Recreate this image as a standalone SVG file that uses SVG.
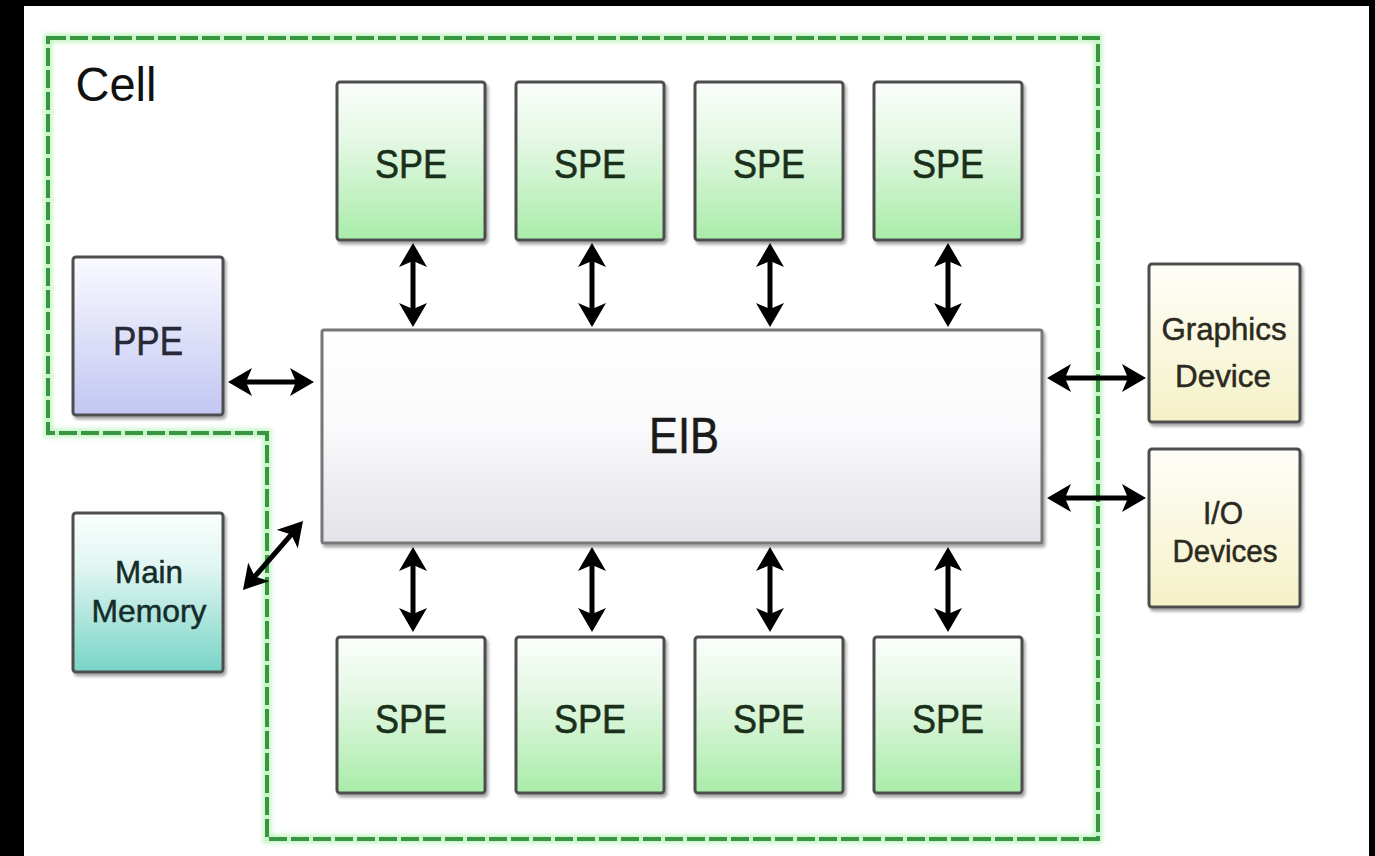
<svg xmlns="http://www.w3.org/2000/svg" width="1375" height="856" viewBox="0 0 1375 856">
  <defs>
    <linearGradient id="gSPE" x1="0" y1="0" x2="0" y2="1">
      <stop offset="0" stop-color="#fbfefb"/>
      <stop offset="0.35" stop-color="#e6f8e6"/>
      <stop offset="1" stop-color="#a9eca9"/>
    </linearGradient>
    <linearGradient id="gPPE" x1="0" y1="0" x2="0" y2="1">
      <stop offset="0" stop-color="#fafaff"/>
      <stop offset="1" stop-color="#c2c6f2"/>
    </linearGradient>
    <linearGradient id="gMEM" x1="0" y1="0" x2="0" y2="1">
      <stop offset="0" stop-color="#fbfffe"/>
      <stop offset="0.35" stop-color="#dff5f1"/>
      <stop offset="1" stop-color="#78d4c6"/>
    </linearGradient>
    <linearGradient id="gIO" x1="0" y1="0" x2="0" y2="1">
      <stop offset="0" stop-color="#fefef8"/>
      <stop offset="1" stop-color="#f5f1c8"/>
    </linearGradient>
    <linearGradient id="gEIB" x1="0" y1="0" x2="0" y2="1">
      <stop offset="0" stop-color="#ffffff"/>
      <stop offset="0.45" stop-color="#fafafc"/>
      <stop offset="1" stop-color="#e2e2e8"/>
    </linearGradient>
    <filter id="shadow" x="-10%" y="-10%" width="125%" height="125%">
      <feDropShadow dx="2" dy="3" stdDeviation="1.5" flood-color="#000" flood-opacity="0.35"/>
    </filter>
    <filter id="glow" x="-5%" y="-5%" width="110%" height="110%">
      <feGaussianBlur stdDeviation="2"/>
    </filter>
    <marker id="ah" viewBox="0 0 24 28" markerUnits="userSpaceOnUse" markerWidth="24" markerHeight="28" refX="17" refY="14" orient="auto-start-reverse">
      <path d="M0,0 L24,14 L0,28 L6,14 Z" fill="#000"/>
    </marker>
  </defs>
  <style>
    .box { stroke: #4e4e4e; stroke-width: 3; filter: url(#shadow); }
    .eib { stroke: #777; stroke-width: 3; filter: url(#shadow); }
    .lbl { font-family: "Liberation Sans", Arial, sans-serif; text-anchor: middle; }
    .spe { fill: #1a301a; font-size: 41px; stroke: #1a301a; stroke-width: 0.6; }
    .conn { stroke: #000; stroke-width: 5; fill: none; marker-start: url(#ah); marker-end: url(#ah); }
  </style>

  <rect x="0" y="0" width="1375" height="856" fill="#000"/>
  <rect x="24" y="6" width="1345" height="850" fill="#fff"/>

  <g id="cell-boundary">
    <path d="M48,38 H1098 V839 H267 V433 H48 Z" fill="none" stroke="#aef0ae" stroke-width="9" filter="url(#glow)" opacity="0.7"/>
    <path d="M48,38 H1098 V839 H267 V433 H48 Z" fill="none" stroke="#37963f" stroke-width="4" stroke-dasharray="18 4"/>
    <text class="lbl" x="116" y="101" font-size="49" fill="#111" textLength="81" lengthAdjust="spacingAndGlyphs">Cell</text>
  </g>

  <g id="connectors">
    <line class="conn" x1="413" y1="250" x2="413" y2="320"/>
    <line class="conn" x1="592" y1="250" x2="592" y2="320"/>
    <line class="conn" x1="770" y1="250" x2="770" y2="320"/>
    <line class="conn" x1="948" y1="250" x2="948" y2="320"/>
    <line class="conn" x1="413" y1="554" x2="413" y2="625"/>
    <line class="conn" x1="592" y1="554" x2="592" y2="625"/>
    <line class="conn" x1="770" y1="554" x2="770" y2="625"/>
    <line class="conn" x1="948" y1="554" x2="948" y2="625"/>
    <line class="conn" x1="235" y1="382" x2="307" y2="382"/>
    <line class="conn" x1="1054" y1="378" x2="1139" y2="378"/>
    <line class="conn" x1="1054" y1="498" x2="1139" y2="498"/>
    <line class="conn" x1="247.6" y1="584.7" x2="298.4" y2="526.3"/>
  </g>

  <g id="eib">
    <rect class="eib" x="322" y="330" width="720" height="213" rx="2" fill="url(#gEIB)"/>
    <text class="lbl" x="684" y="453" font-size="50" fill="#1a1a1a" stroke="#1a1a1a" stroke-width="0.6" textLength="70" lengthAdjust="spacingAndGlyphs">EIB</text>
  </g>

  <g id="spe-top-1">
    <rect class="box" x="337" y="82" width="148" height="158" rx="3" fill="url(#gSPE)"/>
    <text class="lbl spe" x="411" y="178" textLength="72" lengthAdjust="spacingAndGlyphs">SPE</text>
  </g>
  <g id="spe-top-2">
    <rect class="box" x="516" y="82" width="148" height="158" rx="3" fill="url(#gSPE)"/>
    <text class="lbl spe" x="590" y="178" textLength="72" lengthAdjust="spacingAndGlyphs">SPE</text>
  </g>
  <g id="spe-top-3">
    <rect class="box" x="695" y="82" width="148" height="158" rx="3" fill="url(#gSPE)"/>
    <text class="lbl spe" x="769" y="178" textLength="72" lengthAdjust="spacingAndGlyphs">SPE</text>
  </g>
  <g id="spe-top-4">
    <rect class="box" x="874" y="82" width="148" height="158" rx="3" fill="url(#gSPE)"/>
    <text class="lbl spe" x="948" y="178" textLength="72" lengthAdjust="spacingAndGlyphs">SPE</text>
  </g>

  <g id="spe-bottom-1">
    <rect class="box" x="337" y="637" width="148" height="156" rx="3" fill="url(#gSPE)"/>
    <text class="lbl spe" x="411" y="733" textLength="72" lengthAdjust="spacingAndGlyphs">SPE</text>
  </g>
  <g id="spe-bottom-2">
    <rect class="box" x="516" y="637" width="148" height="156" rx="3" fill="url(#gSPE)"/>
    <text class="lbl spe" x="590" y="733" textLength="72" lengthAdjust="spacingAndGlyphs">SPE</text>
  </g>
  <g id="spe-bottom-3">
    <rect class="box" x="695" y="637" width="148" height="156" rx="3" fill="url(#gSPE)"/>
    <text class="lbl spe" x="769" y="733" textLength="72" lengthAdjust="spacingAndGlyphs">SPE</text>
  </g>
  <g id="spe-bottom-4">
    <rect class="box" x="874" y="637" width="148" height="156" rx="3" fill="url(#gSPE)"/>
    <text class="lbl spe" x="948" y="733" textLength="72" lengthAdjust="spacingAndGlyphs">SPE</text>
  </g>

  <g id="ppe">
    <rect class="box" x="73" y="257" width="150" height="158" rx="3" fill="url(#gPPE)"/>
    <text class="lbl" x="148" y="355" font-size="41" fill="#262a36" stroke="#262a36" stroke-width="0.6" textLength="70" lengthAdjust="spacingAndGlyphs">PPE</text>
  </g>

  <g id="main-memory">
    <rect class="box" x="73" y="513" width="150" height="159" rx="3" fill="url(#gMEM)"/>
    <text class="lbl" x="149" y="583" font-size="32" fill="#142c2a" stroke="#142c2a" stroke-width="0.5" textLength="68" lengthAdjust="spacingAndGlyphs">Main</text>
    <text class="lbl" x="149" y="622" font-size="32" fill="#142c2a" stroke="#142c2a" stroke-width="0.5" textLength="115" lengthAdjust="spacingAndGlyphs">Memory</text>
  </g>

  <g id="graphics-device">
    <rect class="box" x="1149" y="264" width="151" height="158" rx="3" fill="url(#gIO)"/>
    <text class="lbl" x="1224" y="340" font-size="32" fill="#2a2a20" stroke="#2a2a20" stroke-width="0.5" textLength="125" lengthAdjust="spacingAndGlyphs">Graphics</text>
    <text class="lbl" x="1223" y="387" font-size="32" fill="#2a2a20" stroke="#2a2a20" stroke-width="0.5" textLength="96" lengthAdjust="spacingAndGlyphs">Device</text>
  </g>

  <g id="io-devices">
    <rect class="box" x="1149" y="449" width="151" height="158" rx="3" fill="url(#gIO)"/>
    <text class="lbl" x="1223" y="524" font-size="31" fill="#2a2a20" stroke="#2a2a20" stroke-width="0.5" textLength="40" lengthAdjust="spacingAndGlyphs">I/O</text>
    <text class="lbl" x="1225" y="562" font-size="31" fill="#2a2a20" stroke="#2a2a20" stroke-width="0.5" textLength="105" lengthAdjust="spacingAndGlyphs">Devices</text>
  </g>
</svg>
